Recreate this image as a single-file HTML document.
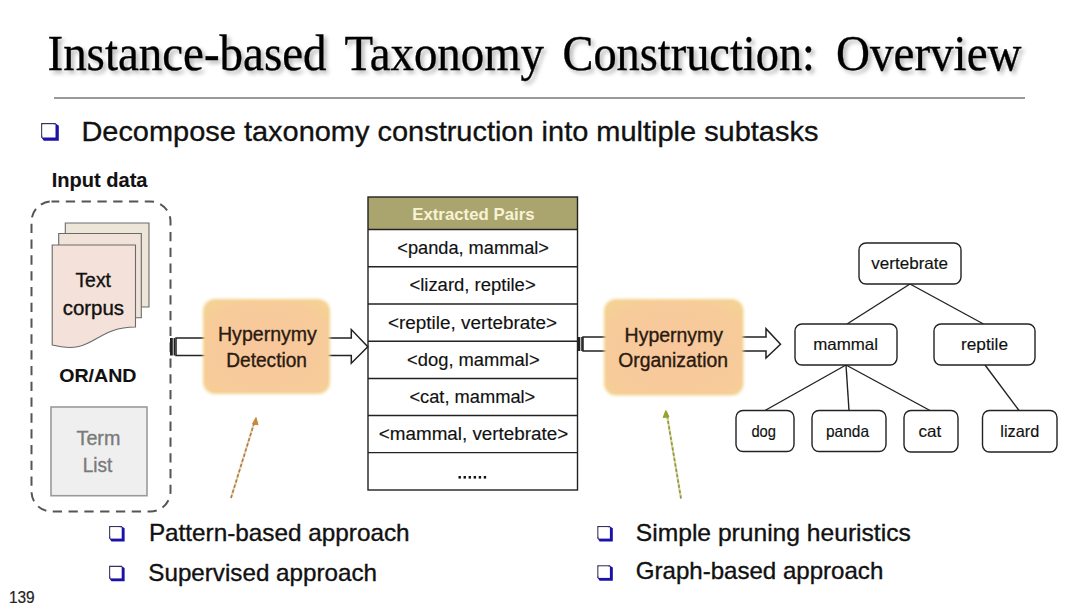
<!DOCTYPE html>
<html>
<head>
<meta charset="utf-8">
<style>
html,body{margin:0;padding:0;background:#fff;}
body{width:1080px;height:607px;overflow:hidden;position:relative;}
svg{position:absolute;left:0;top:0;}
text{font-family:"Liberation Sans",sans-serif;fill:#111;stroke:#111;stroke-width:0.35px;}
.serif{font-family:"Liberation Serif",serif;}
</style>
</head>
<body>
<svg width="1080" height="607" viewBox="0 0 1080 607">
<defs>
  <filter id="tshadow" x="-5%" y="-30%" width="110%" height="160%">
    <feGaussianBlur in="SourceAlpha" stdDeviation="2"/>
    <feOffset dx="2.5" dy="3" result="b"/>
    <feComponentTransfer><feFuncA type="linear" slope="0.3"/></feComponentTransfer>
    <feMerge><feMergeNode/><feMergeNode in="SourceGraphic"/></feMerge>
  </filter>
  <filter id="soft" x="-10%" y="-10%" width="120%" height="120%">
    <feGaussianBlur stdDeviation="1.8"/>
  </filter>
  <radialGradient id="og" cx="50%" cy="55%" r="72%">
    <stop offset="0" stop-color="#f8c79c"/>
    <stop offset="0.75" stop-color="#f7cb9a"/>
    <stop offset="1" stop-color="#f4d393"/>
  </radialGradient>
  <filter id="blur05"><feGaussianBlur stdDeviation="0.5"/></filter>
</defs>

<!-- Title -->
<g filter="url(#tshadow)" style="fill:#000" stroke="#000" stroke-width="0.3">
<text class="serif" x="47.5" y="69.5" font-size="51" textLength="279" lengthAdjust="spacingAndGlyphs" style="fill:#000">Instance-based</text>
<text class="serif" x="344.4" y="69.5" font-size="51" textLength="199.6" lengthAdjust="spacingAndGlyphs" style="fill:#000">Taxonomy</text>
<text class="serif" x="562.5" y="69.5" font-size="51" textLength="252.5" lengthAdjust="spacingAndGlyphs" style="fill:#000">Construction:</text>
<text class="serif" x="836" y="69.5" font-size="51" textLength="185.5" lengthAdjust="spacingAndGlyphs" style="fill:#000">Overview</text>
</g>
<line x1="54" y1="98" x2="1025" y2="98" stroke="#9a9a9a" stroke-width="2"/>

<!-- bullets -->
<path d="M55.0,123.1 L58.8,125.74 L58.8,140.8 L43.74,140.8 L41.1,137.0 Z" fill="#1c12a8"/><path d="M41.1,123.1 H55.5 v1.3 H42.4 V137.5 H41.1 Z" fill="#34345a"/><rect x="42.4" y="124.4" width="13.1" height="13.1" fill="#fff"/>
<path d="M121.2,526 L124.6,528.32 L124.6,541.5 L111.42,541.5 L109.1,538.1 Z" fill="#1c12a8"/><path d="M109.1,526 H121.7 v1.3 H110.4 V538.6 H109.1 Z" fill="#34345a"/><rect x="110.4" y="527.3" width="11.3" height="11.3" fill="#fff"/>
<path d="M121.2,565.8 L124.6,568.12 L124.6,581.3 L111.42,581.3 L109.1,577.9 Z" fill="#1c12a8"/><path d="M109.1,565.8 H121.7 v1.3 H110.4 V578.4 H109.1 Z" fill="#34345a"/><rect x="110.4" y="567.1" width="11.3" height="11.3" fill="#fff"/>
<path d="M609.4,526 L612.8,528.32 L612.8,541.5 L599.62,541.5 L597.3,538.1 Z" fill="#1c12a8"/><path d="M597.3,526 H609.9 v1.3 H598.6 V538.6 H597.3 Z" fill="#34345a"/><rect x="598.6" y="527.3" width="11.3" height="11.3" fill="#fff"/>
<path d="M609.4,565.3 L612.8,567.62 L612.8,580.8 L599.62,580.8 L597.3,577.4 Z" fill="#1c12a8"/><path d="M597.3,565.3 H609.9 v1.3 H598.6 V577.9 H597.3 Z" fill="#34345a"/><rect x="598.6" y="566.6" width="11.3" height="11.3" fill="#fff"/>

<!-- main bullet -->
<text x="81.4" y="141" font-size="28.5" textLength="737" lengthAdjust="spacingAndGlyphs">Decompose taxonomy construction into multiple subtasks</text>

<!-- Input data -->
<text x="51.7" y="187.2" font-size="19.5" font-weight="bold" textLength="95.8" lengthAdjust="spacingAndGlyphs" style="stroke-width:0.1px">Input data</text>

<!-- dashed rounded box -->
<rect x="31.5" y="201.5" width="139" height="310" rx="20" ry="20" fill="none" stroke="#555" stroke-width="2" stroke-dasharray="9.3,6.5" stroke-dashoffset="1.5"/>

<!-- multi document -->
<path d="M65.3,234 V223 H149 V307 H141.3" fill="#eee5d9" stroke="#6a6a6a" stroke-width="1.1"/>
<path d="M58.7,245 V233.5 H141.3 V317.7 H135.5" fill="#f1e3d9" stroke="#6a6a6a" stroke-width="1.1"/>
<path d="M52.2,245 H135.5 V327 C93.75,327 93.75,356 52.2,345 Z" fill="#f4e1d9" stroke="#6a6a6a" stroke-width="1.1"/>
<text x="75.4" y="287.2" font-size="19.5" textLength="35.6" lengthAdjust="spacingAndGlyphs">Text</text>
<text x="62.7" y="314.7" font-size="19.5" textLength="61.3" lengthAdjust="spacingAndGlyphs">corpus</text>

<text x="59.2" y="381.8" font-size="18.5" font-weight="bold" textLength="77.3" lengthAdjust="spacingAndGlyphs" style="stroke-width:0.1px">OR/AND</text>

<!-- Term list -->
<rect x="51" y="407" width="96" height="88.7" fill="#efefef" stroke="#9a9a9a" stroke-width="1.6"/>
<text x="76.5" y="445.4" font-size="19.5" textLength="43.9" lengthAdjust="spacingAndGlyphs" style="fill:#7a7a7a;stroke:#7a7a7a">Term</text>
<text x="82.8" y="472" font-size="19.5" textLength="29.5" lengthAdjust="spacingAndGlyphs" style="fill:#7a7a7a;stroke:#7a7a7a">List</text>

<!-- Arrow 1: striped block arrow -->
<path d="M176,338 H351.3 V329.5 L367.8,346.7 L351.3,363.3 V355.5 H176 Z" fill="#fff" stroke="#222" stroke-width="1.5"/>
<rect x="170" y="338" width="2.8" height="17.5" fill="#222"/>
<rect x="173.6" y="338" width="1.6" height="17.5" fill="#222"/>

<!-- Hypernymy Detection box -->
<rect x="203" y="299" width="127" height="95" rx="12" ry="12" fill="#f4d290" filter="url(#soft)"/>
<rect x="205" y="301" width="123" height="91" rx="11" ry="11" fill="url(#og)" filter="url(#blur05)"/>
<text x="218" y="340.9" font-size="19.5" textLength="98.9" lengthAdjust="spacingAndGlyphs" style="fill:#2a1a10;stroke:#2a1a10">Hypernymy</text>
<text x="226.2" y="367.4" font-size="19.5" textLength="80.8" lengthAdjust="spacingAndGlyphs" style="fill:#2a1a10;stroke:#2a1a10">Detection</text>

<!-- Table -->
<rect x="368" y="197" width="209.5" height="32.5" fill="#aaa56e"/>
<rect x="368" y="197" width="209.5" height="293" fill="none" stroke="#222" stroke-width="1.4"/>
<g stroke="#222" stroke-width="1.4">
  <line x1="368" y1="229.5" x2="577.5" y2="229.5"/>
  <line x1="368" y1="266.7" x2="577.5" y2="266.7"/>
  <line x1="368" y1="304" x2="577.5" y2="304"/>
  <line x1="368" y1="341.3" x2="577.5" y2="341.3"/>
  <line x1="368" y1="378.5" x2="577.5" y2="378.5"/>
  <line x1="368" y1="415.5" x2="577.5" y2="415.5"/>
  <line x1="368" y1="452.6" x2="577.5" y2="452.6"/>
</g>
<text x="412.2" y="219.8" font-size="16.5" font-weight="bold" textLength="122.4" lengthAdjust="spacingAndGlyphs" style="fill:#f7f3d4;stroke:none">Extracted Pairs</text>
<text x="397.3" y="253.9" font-size="17.5" style="stroke-width:0.15px" textLength="151.7" lengthAdjust="spacingAndGlyphs">&lt;panda, mammal&gt;</text>
<text x="409.4" y="290.7" font-size="17.5" style="stroke-width:0.15px" textLength="126.3" lengthAdjust="spacingAndGlyphs">&lt;lizard, reptile&gt;</text>
<text x="388" y="329" font-size="17.5" style="stroke-width:0.15px" textLength="169" lengthAdjust="spacingAndGlyphs">&lt;reptile, vertebrate&gt;</text>
<text x="407.1" y="365.9" font-size="17.5" style="stroke-width:0.15px" textLength="132.5" lengthAdjust="spacingAndGlyphs">&lt;dog, mammal&gt;</text>
<text x="409.4" y="402.8" font-size="17.5" style="stroke-width:0.15px" textLength="125.9" lengthAdjust="spacingAndGlyphs">&lt;cat, mammal&gt;</text>
<text x="378.8" y="440" font-size="17.5" style="stroke-width:0.15px" textLength="189.4" lengthAdjust="spacingAndGlyphs">&lt;mammal, vertebrate&gt;</text>
<rect x="458.5" y="476" width="2.4" height="2.6" fill="#111"/><rect x="463.55" y="476" width="2.4" height="2.6" fill="#111"/><rect x="468.6" y="476" width="2.4" height="2.6" fill="#111"/><rect x="473.65" y="476" width="2.4" height="2.6" fill="#111"/><rect x="478.7" y="476" width="2.4" height="2.6" fill="#111"/><rect x="483.75" y="476" width="2.4" height="2.6" fill="#111"/>

<!-- Arrow 2 -->
<path d="M583,337 H766 V328.7 L780.5,344.3 L766,358 V351 H583 Z" fill="#fff" stroke="#222" stroke-width="1.5"/>
<rect x="577.5" y="337" width="2.8" height="14" fill="#222"/>
<rect x="581.2" y="337" width="1.6" height="14" fill="#222"/>

<!-- Hypernymy Organization box -->
<rect x="604" y="299" width="139.5" height="96.5" rx="12" ry="12" fill="#f4d290" filter="url(#soft)"/>
<rect x="606" y="301" width="135.5" height="92.5" rx="11" ry="11" fill="url(#og)" filter="url(#blur05)"/>
<text x="624.6" y="342.1" font-size="19.5" textLength="98.4" lengthAdjust="spacingAndGlyphs" style="fill:#2a1a10;stroke:#2a1a10">Hypernymy</text>
<text x="618.2" y="366.7" font-size="19.5" textLength="109.8" lengthAdjust="spacingAndGlyphs" style="fill:#2a1a10;stroke:#2a1a10">Organization</text>

<!-- Tree lines -->
<g stroke="#222" stroke-width="1.4">
  <line x1="910" y1="284" x2="847" y2="324"/>
  <line x1="910" y1="284" x2="983.5" y2="324"/>
  <line x1="846" y1="365" x2="765" y2="410.5"/>
  <line x1="846" y1="365" x2="849" y2="410.5"/>
  <line x1="846" y1="365" x2="930" y2="410.5"/>
  <line x1="985" y1="365" x2="1019" y2="410.5"/>
</g>
<!-- Tree nodes -->
<g fill="#fff" stroke="#222" stroke-width="1.4">
  <rect x="859" y="243" width="102" height="41" rx="7"/>
  <rect x="795" y="324" width="102" height="41" rx="7"/>
  <rect x="934" y="324" width="101" height="41" rx="7"/>
  <rect x="736" y="410.5" width="58" height="41" rx="7"/>
  <rect x="812" y="410.5" width="74" height="41" rx="7"/>
  <rect x="904" y="410.5" width="54" height="41.5" rx="7"/>
  <rect x="982.5" y="410.5" width="74.5" height="41.5" rx="7"/>
</g>
<text x="871.3" y="268.9" font-size="16.5" style="stroke-width:0.15px" textLength="76.7" lengthAdjust="spacingAndGlyphs">vertebrate</text>
<text x="813.2" y="349.8" font-size="16.5" style="stroke-width:0.15px" textLength="64.8" lengthAdjust="spacingAndGlyphs">mammal</text>
<text x="961" y="349.8" font-size="16.5" style="stroke-width:0.15px" textLength="47" lengthAdjust="spacingAndGlyphs">reptile</text>
<text x="751.4" y="436.8" font-size="16.5" style="stroke-width:0.15px" textLength="24.6" lengthAdjust="spacingAndGlyphs">dog</text>
<text x="826" y="436.8" font-size="16.5" style="stroke-width:0.15px" textLength="43" lengthAdjust="spacingAndGlyphs">panda</text>
<text x="918.6" y="436.8" font-size="16.5" style="stroke-width:0.15px" textLength="22.7" lengthAdjust="spacingAndGlyphs">cat</text>
<text x="1000.3" y="436.8" font-size="16.5" style="stroke-width:0.15px" textLength="38.9" lengthAdjust="spacingAndGlyphs">lizard</text>

<!-- dashed arrows -->
<line x1="231" y1="498" x2="255" y2="420" stroke="#f2d2a0" stroke-width="2.2"/>
<line x1="231" y1="498" x2="254.5" y2="422" stroke="#a08060" stroke-width="1.6" stroke-dasharray="3.2,2.2"/>
<path d="M256,417.5 L252.5,424 L258,424.8 Z" fill="#c8883c" stroke="#c8883c" stroke-width="1" stroke-linejoin="round"/>
<line x1="681" y1="498.5" x2="666.5" y2="412" stroke="#dcdc80" stroke-width="2.2"/>
<line x1="681" y1="498.5" x2="667" y2="415" stroke="#8e8e72" stroke-width="1.6" stroke-dasharray="3.2,2.2"/>
<path d="M665.8,410.5 L663.2,417.5 L669,416.8 Z" fill="#98a032" stroke="#98a032" stroke-width="1" stroke-linejoin="round"/>

<!-- bottom bullets -->
<text x="148.9" y="541" font-size="24" textLength="260.7" lengthAdjust="spacingAndGlyphs">Pattern-based approach</text>
<text x="148.3" y="581" font-size="24" textLength="228.7" lengthAdjust="spacingAndGlyphs">Supervised approach</text>
<text x="635.8" y="540.5" font-size="24" textLength="275" lengthAdjust="spacingAndGlyphs">Simple pruning heuristics</text>
<text x="635.8" y="579" font-size="24" textLength="247.5" lengthAdjust="spacingAndGlyphs">Graph-based approach</text>

<text x="8.9" y="602.8" font-size="16" textLength="25.8" lengthAdjust="spacingAndGlyphs" style="fill:#222;stroke:#222;stroke-width:0.2px">139</text>
</svg>
</body>
</html>
